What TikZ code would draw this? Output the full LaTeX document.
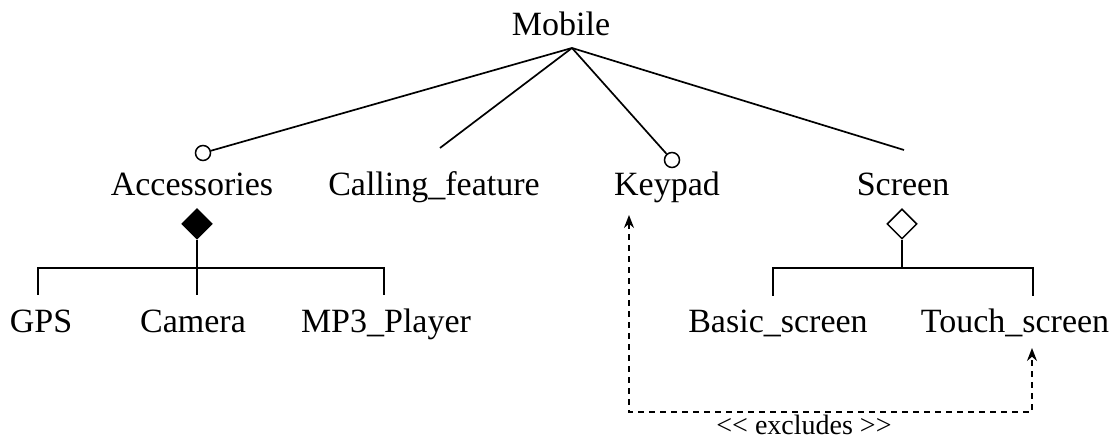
\documentclass[tikz,border=0pt]{standalone}
\usepackage{fontspec}
\setmainfont{Liberation Serif}
\usetikzlibrary{shapes.geometric,arrows.meta}
\begin{document}
\begin{tikzpicture}[x=0.5pt,y=-0.5pt,
  lbl/.style={anchor=base,inner sep=0pt,font=\fontsize{17pt}{20pt}\selectfont},
  small/.style={anchor=base,inner sep=0pt,font=\fontsize{14pt}{16pt}\selectfont},
  link/.style={line width=0.85pt},
  optc/.style={circle,draw,line width=0.75pt,fill=white,inner sep=0pt,minimum size=7.5pt},
  grp/.style={diamond,draw,line width=0.75pt,inner sep=0pt,minimum width=15pt,minimum height=15pt},
  excl/.style={line width=0.75pt,dash pattern=on 3pt off 2.5pt,
    {Stealth[length=6.5pt,width=5pt]}-{Stealth[length=6.5pt,width=5pt]}}
]
\useasboundingbox (0,0) rectangle (1116,442);

% feature names
\node[lbl] (mobile) at (561,36) {Mobile};
\node[lbl] (acc)    at (192,196) {Accessories};
\node[lbl] (call)   at (434,196) {Calling\_feature};
\node[lbl] (key)    at (667,196) {Keypad};
\node[lbl] (scr)    at (903,196) {Screen};
\node[lbl] (gps)    at (41,333) {GPS};
\node[lbl] (cam)    at (193,333) {Camera};
\node[lbl] (mp3)    at (386,333) {MP3\_Player};
\node[lbl] (basic)  at (778,333) {Basic\_screen};
\node[lbl] (touch)  at (1015,333) {Touch\_screen};

% connection points
\coordinate (apex)    at (572,48);
\coordinate (callEnd) at (440,148);
\coordinate (scrEnd)  at (904,150);
\node[optc] (accC) at (203,153) {};
\node[optc] (keyC) at (672,160) {};

% top level relations
\draw[link] (apex) -- (accC);
\draw[link] (apex) -- (callEnd);
\draw[link] (apex) -- (keyC);
\draw[link] (apex) -- (scrEnd);

% or-group under Accessories
\node[grp,fill=black] (accD) at (197,224) {};
\coordinate (accBar) at (197,268);
\coordinate (gpsT) at (38,295);
\coordinate (camT) at (197,295);
\coordinate (mp3T) at (384,295);
\draw[link] (accD.south) -- (camT);
\draw[link] (gpsT) |- (mp3T |- accBar) -- (mp3T);

% alternative group under Screen
\node[grp,fill=white] (scrD) at (902,224) {};
\coordinate (scrBar) at (902,268);
\coordinate (basicT) at (773,296);
\coordinate (touchT) at (1033,296);
\draw[link] (scrD.south) -- (scrBar);
\draw[link] (basicT) |- (touchT |- scrBar) -- (touchT);

% excludes constraint
\coordinate (keyArr)   at (629,215);
\coordinate (touchArr) at (1032,348);
\coordinate (exclY)    at (800,412);
\draw[excl] (keyArr) -- (keyArr |- exclY) -- (touchArr |- exclY) -- (touchArr);
\node[small] (exlbl) at (804,435) {<{}< excludes >{}>};
\end{tikzpicture}
\end{document}
